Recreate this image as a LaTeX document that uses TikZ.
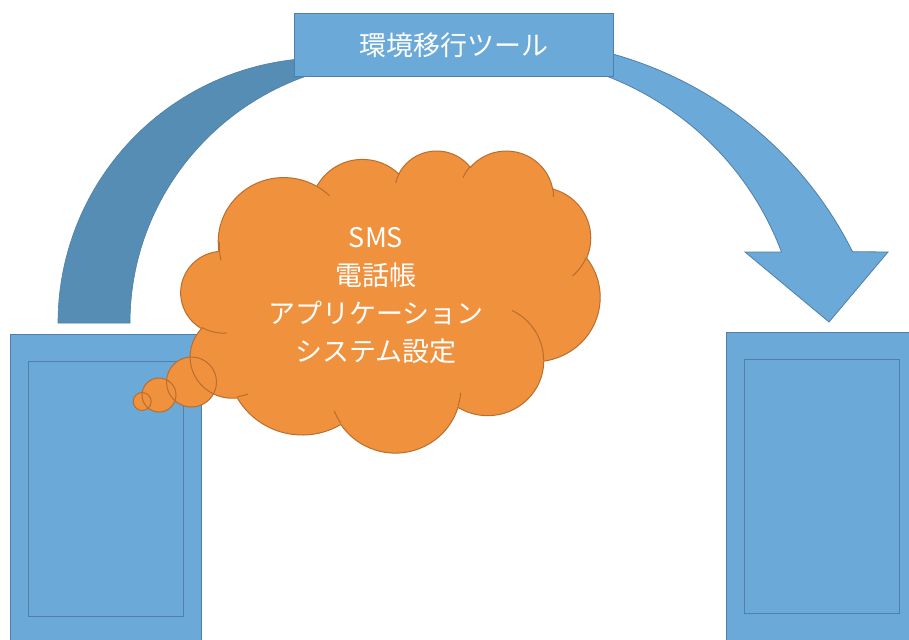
\documentclass[tikz,border=0pt]{standalone}
\usepackage{fontspec}
\setmainfont{Noto Sans CJK JP}
\usetikzlibrary{calc}
\definecolor{bluefill}{RGB}{106,169,216}
\definecolor{bluedark}{RGB}{86,141,181}
\definecolor{blueline}{RGB}{80,128,170}
\definecolor{orangefill}{RGB}{240,145,62}
\definecolor{orangeline}{RGB}{185,110,45}
\newcommand\ooprep[5]{%
  \pgfmathsetmacro\ootA{atan2((#2)*sin(#4),(#3)*cos(#4))}%
  \pgfmathsetmacro\ootB{atan2((#2)*sin((#4)+(#5)),(#3)*cos((#4)+(#5)))}%
  \pgfmathsetmacro\ootD{\ootB-(\ootA)}%
  \pgfmathsetmacro\ootD{\ootD-360*round((\ootD-(#5))/360)}%
  \pgfmathsetmacro\ootB{\ootA+(\ootD)}%
  \expandafter\xdef\csname oo#1s\endcsname{\ootA}%
  \expandafter\xdef\csname oo#1e\endcsname{\ootB}%
}
\begin{document}
\begin{tikzpicture}[x=1pt,y=-1pt,
  banddark/.style={fill=bluedark,draw=bluedark!90!black,line width=0.6pt},
  bandlight/.style={fill=bluefill,draw=blueline,line width=0.8pt},
  phone/.style={rectangle,fill=bluefill,draw=blueline,line width=1pt,inner sep=0pt},
  screen/.style={rectangle,draw=blueline,line width=1pt,inner sep=0pt},
  labelbox/.style={rectangle,fill=bluefill,draw=blueline,line width=1pt,inner sep=0pt,
    text=white,font=\fontsize{27}{30}\selectfont},
  cloudfill/.style={fill=orangefill},
  cloudline/.style={draw=orangeline,line width=1pt},
  bubble/.style={circle,fill=orangefill,inner sep=0pt},
  bubbleline/.style={circle,draw=orangeline,line width=1pt,inner sep=0pt},
  cloudtext/.style={text=white,align=center,inner sep=0pt,
    font=\fontsize{27}{38}\selectfont}]
\useasboundingbox (0,0) rectangle (909,639);
\fill[white] (0,0) rectangle (909,639);
% curved down arrow: back band (dark)
\path[banddark] (58,323) arc[start angle=180, end angle=285, radius=265]
  -- (349,65) arc[start angle=-100, end angle=-180, x radius=265, y radius=262] -- cycle;
% front band with head
\path[bandlight] ($(510,423)+(-100:383)$) arc[start angle=-100, end angle=-26.57, radius=383]
  -- (888,252) -- (829,322) -- (745,252) -- (781.5,252)
  arc[start angle=-20.68, end angle=-95, radius=303] -- cycle;
% phones
\node[phone, minimum width=191pt, minimum height=346pt] (src) at (105.5,507) {};
\node[screen, minimum width=155pt, minimum height=255pt] (srcscreen) at (105.5,488.5) {};
\node[phone, minimum width=191pt, minimum height=348pt] (dst) at (821.5,506) {};
\node[screen, minimum width=155pt, minimum height=254pt] (dstscreen) at (821.5,486) {};
% tool label
\node[labelbox, minimum width=319pt, minimum height=63pt] (tool) at (453.5,45.5) {環境移行ツール};
% cloud arcs precomputation
\ooprep{A}{67.53}{91.90}{-190.4875}{123.7805}
\ooprep{B}{53.33}{72.67}{-144.1024}{89.9452}
\ooprep{C}{43.65}{59.45}{-145.8079}{99.7230}
\ooprep{D}{48.57}{65.95}{-130.9861}{117.2417}
\ooprep{E}{53.33}{72.73}{-78.7089}{109.0269}
\ooprep{F}{67.75}{92.20}{-46.2673}{130.2690}
\ooprep{G}{57.85}{78.67}{0.6250}{114.0333}
\ooprep{H}{67.52}{92.15}{22.4516}{115.1726}
\ooprep{I}{77.20}{105.43}{66.2426}{75.7110}
\ooprep{J}{43.60}{59.18}{-274.9421}{146.7356}
\ooprep{K}{43.45}{59.45}{-246.8285}{152.5189}
\ooprep{a}{43.45}{59.45}{86.7420}{26.4295}
\ooprep{b}{43.60}{59.18}{73.6105}{11.4475}
\ooprep{c}{67.52}{92.15}{137.6242}{14.0811}
\ooprep{d}{67.52}{92.15}{6.4533}{15.9984}
\ooprep{e}{57.85}{78.67}{-70.2924}{70.9174}
\ooprep{f}{53.33}{72.73}{30.3180}{27.7515}
\ooprep{g}{48.57}{65.95}{-13.7443}{14.8512}
\ooprep{h}{48.57}{65.95}{-149.1815}{18.1968}
\ooprep{i}{43.65}{59.45}{-163.4943}{17.6973}
\ooprep{j}{67.53}{91.90}{-66.7070}{12.3194}
\ooprep{k}{67.53}{91.90}{162.0453}{22.2981}
% thought bubbles (fill)
\node[bubble, minimum size=50pt] (b1) at (191.5,382) {};
\node[bubble, minimum size=34pt] (b2) at (159,395) {};
\node[bubble, minimum size=18pt] (b3) at (142.2,401.5) {};
\begin{scope}[shift={(181,150)}, x=0.96991pt, y=-0.69907pt]
\path[cloudfill,cloudline] (39.00,143.70)
  arc[start angle=\ooAs, end angle=\ooAe, x radius=67.53, y radius=91.90]
  arc[start angle=\ooBs, end angle=\ooBe, x radius=53.33, y radius=72.67]
  arc[start angle=\ooCs, end angle=\ooCe, x radius=43.65, y radius=59.45]
  arc[start angle=\ooDs, end angle=\ooDe, x radius=48.57, y radius=65.95]
  arc[start angle=\ooEs, end angle=\ooEe, x radius=53.33, y radius=72.73]
  arc[start angle=\ooFs, end angle=\ooFe, x radius=67.75, y radius=92.20]
  arc[start angle=\ooGs, end angle=\ooGe, x radius=57.85, y radius=78.67]
  arc[start angle=\ooHs, end angle=\ooHe, x radius=67.52, y radius=92.15]
  arc[start angle=\ooIs, end angle=\ooIe, x radius=77.20, y radius=105.43]
  arc[start angle=\ooJs, end angle=\ooJe, x radius=43.60, y radius=59.18]
  arc[start angle=\ooKs, end angle=\ooKe, x radius=43.45, y radius=59.45]
  -- cycle;
\path[cloudline]
  (46.93,261.77) arc[start angle=\ooas, end angle=\ooae, x radius=43.45, y radius=59.45]
  (69.28,348.99) arc[start angle=\oobs, end angle=\oobe, x radius=43.60, y radius=59.18]
  (164.78,390.90) arc[start angle=\oocs, end angle=\ooce, x radius=67.52, y radius=92.15]
  (288.27,347.51) arc[start angle=\oods, end angle=\oode, x radius=67.52, y radius=92.15]
  (341.29,229.54) arc[start angle=\ooes, end angle=\ooee, x radius=57.85, y radius=78.67]
  (417.98,153.54) arc[start angle=\oofs, end angle=\oofe, x radius=53.33, y radius=72.73]
  (383.24,54.26) arc[start angle=\oogs, end angle=\ooge, x radius=48.57, y radius=65.95]
  (290.78,39.52) arc[start angle=\oohs, end angle=\oohe, x radius=48.57, y radius=65.95]
  (221.41,47.20) arc[start angle=\oois, end angle=\ooie, x radius=43.65, y radius=59.45]
  (140.00,51.92) arc[start angle=\oojs, end angle=\ooje, x radius=67.53, y radius=91.90]
  (41.27,157.89) arc[start angle=\ooks, end angle=\ooke, x radius=67.53, y radius=91.90];
\end{scope}
% bubble outlines
\node[bubbleline, minimum size=50pt] at (b1) {};
\node[bubbleline, minimum size=34pt] at (b2) {};
\node[bubbleline, minimum size=18pt] at (b3) {};
% cloud text
\node[cloudtext] (content) at (376,296) {SMS\\電話帳\\アプリケーション\\システム設定};
\end{tikzpicture}
\end{document}
